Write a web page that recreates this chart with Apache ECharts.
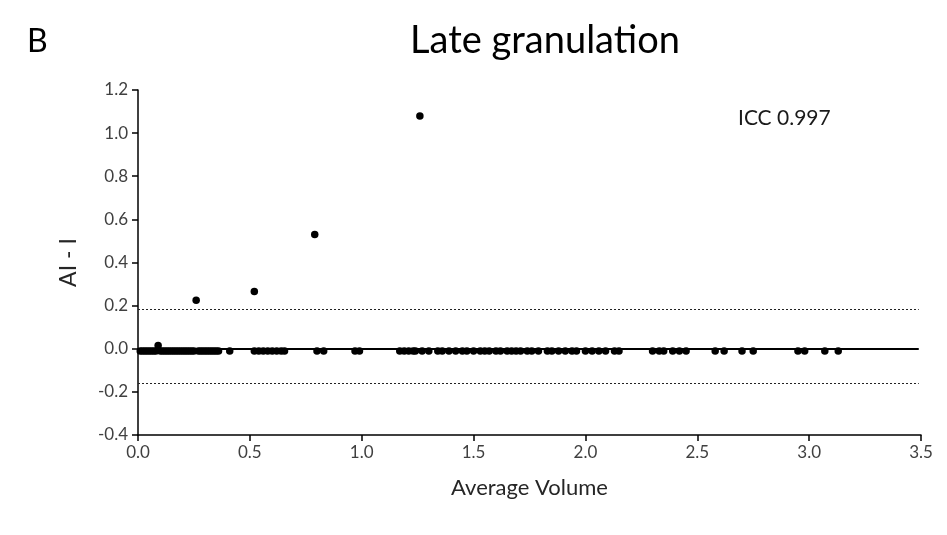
<!DOCTYPE html>
<html>
<head>
<meta charset="utf-8">
<script src="https://cdn.jsdelivr.net/npm/echarts@6/dist/echarts.min.js"></script>
<style>
html,body{margin:0;padding:0;background:#fff;}
#chart{width:947px;height:535px;}
</style>
</head>
<body>
<div id="chart"></div>
<script>
const averageVolume = [0.01,0.02,0.03,0.04,0.05,0.06,0.07,0.08,0.09,0.10,0.11,0.12,0.13,0.14,0.15,0.16,0.17,0.18,0.19,0.20,0.21,0.22,0.23,0.24,0.25,0.26,0.27,0.28,0.29,0.30,0.31,0.32,0.33,0.34,0.35,0.36,0.41,0.52,0.52,0.54,0.56,0.58,0.60,0.62,0.64,0.655,0.79,0.80,0.83,0.97,0.99,1.17,1.19,1.21,1.23,1.24,1.26,1.27,1.30,1.34,1.36,1.39,1.42,1.45,1.47,1.50,1.53,1.55,1.57,1.60,1.62,1.65,1.67,1.69,1.71,1.74,1.76,1.79,1.83,1.85,1.88,1.91,1.94,1.96,2.00,2.03,2.06,2.09,2.13,2.15,2.30,2.33,2.35,2.39,2.42,2.45,2.58,2.62,2.70,2.75,2.95,2.98,3.07,3.13];
const difference = [-0.01,-0.01,-0.01,-0.01,-0.01,-0.01,-0.01,-0.01,0.015,-0.01,-0.01,-0.01,-0.01,-0.01,-0.01,-0.01,-0.01,-0.01,-0.01,-0.01,-0.01,-0.01,-0.01,-0.01,-0.01,0.225,-0.01,-0.01,-0.01,-0.01,-0.01,-0.01,-0.01,-0.01,-0.01,-0.01,-0.01,0.265,-0.01,-0.01,-0.01,-0.01,-0.01,-0.01,-0.01,-0.01,0.53,-0.01,-0.01,-0.01,-0.01,-0.01,-0.01,-0.01,-0.01,-0.01,1.08,-0.01,-0.01,-0.01,-0.01,-0.01,-0.01,-0.01,-0.01,-0.01,-0.01,-0.01,-0.01,-0.01,-0.01,-0.01,-0.01,-0.01,-0.01,-0.01,-0.01,-0.01,-0.01,-0.01,-0.01,-0.01,-0.01,-0.01,-0.01,-0.01,-0.01,-0.01,-0.01,-0.01,-0.01,-0.01,-0.01,-0.01,-0.01,-0.01,-0.01,-0.01,-0.01,-0.01,-0.01,-0.01,-0.01,-0.01];
const meanDiff = 0.0;
const upperLimit = 0.185;
const lowerLimit = -0.16;
const lineEnd = 3.49;
const xTicks = {min: 0, max: 3.5, interval: 0.5};
const yTicks = {min: -0.4, max: 1.2, interval: 0.2};

const points = averageVolume.map((v, i) => [v, difference[i]]);
const font = 'Lato, "Open Sans", sans-serif';
const chart = echarts.init(document.getElementById('chart'), null, {renderer: 'canvas'});
chart.setOption({
  animation: false,
  backgroundColor: '#fff',
  grid: {left: 138, right: 26, top: 90, bottom: 100},
  title: [
    {text: 'Late granulation', left: 540, top: 17, textAlign: 'center',
     textStyle: {fontFamily: font, fontSize: 38, fontWeight: 'normal', color: '#000'}},
    {text: 'B', left: 22, top: 21,
     textStyle: {fontFamily: font, fontSize: 32, fontWeight: 'normal', color: '#000'}},
    {text: 'ICC 0.997', left: 733, top: 103,
     textStyle: {fontFamily: font, fontSize: 21, fontWeight: 'normal', color: '#1a1a1a'}}
  ],
  xAxis: {
    type: 'value', min: xTicks.min, max: xTicks.max, interval: xTicks.interval,
    name: 'Average Volume', nameLocation: 'middle', nameGap: 42,
    nameTextStyle: {fontFamily: font, fontSize: 22, color: '#262626'},
    axisLine: {show: true, onZero: false, lineStyle: {color: '#000', width: 1.5}},
    axisTick: {show: true, length: 6, lineStyle: {color: '#000', width: 1.5}},
    axisLabel: {fontFamily: font, fontSize: 17, color: '#404040', margin: 9, formatter: v => v.toFixed(1)},
    splitLine: {show: false}
  },
  yAxis: {
    type: 'value', min: yTicks.min, max: yTicks.max, interval: yTicks.interval,
    name: 'AI - I', nameLocation: 'middle', nameGap: 58, nameRotate: 90,
    nameTextStyle: {fontFamily: font, fontSize: 23, color: '#262626'},
    axisLine: {show: true, onZero: false, lineStyle: {color: '#000', width: 1.5}},
    axisTick: {show: true, length: 6, lineStyle: {color: '#000', width: 1.5}},
    axisLabel: {fontFamily: font, fontSize: 17, color: '#404040', margin: 10, formatter: v => v.toFixed(1)},
    splitLine: {show: false}
  },
  series: [
    {
      type: 'scatter', data: points, symbol: 'circle', symbolSize: 7.5,
      itemStyle: {color: '#000', opacity: 1}, z: 2
    },
    {
      type: 'line', data: [], z: 5,
      markLine: {
        silent: true, symbol: 'none', label: {show: false}, animation: false,
        data: [
          [{coord: [0, meanDiff], lineStyle: {type: 'solid', width: 2, color: '#000'}}, {coord: [lineEnd, meanDiff]}],
          [{coord: [0, upperLimit], lineStyle: {type: [2, 2], width: 1.2, color: '#222'}}, {coord: [lineEnd, upperLimit]}],
          [{coord: [0, lowerLimit], lineStyle: {type: [2, 2], width: 1.2, color: '#222'}}, {coord: [lineEnd, lowerLimit]}]
        ]
      }
    }
  ]
});
</script>
</body>
</html>
